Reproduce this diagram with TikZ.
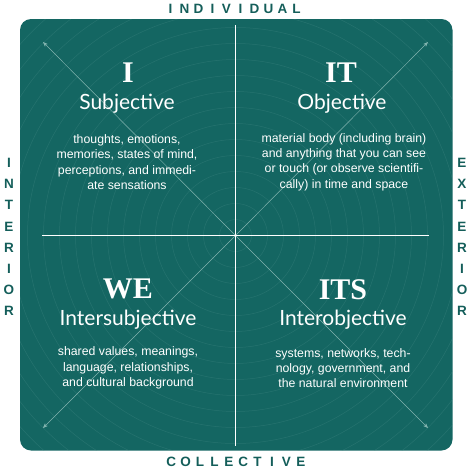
\documentclass[tikz,border=0pt]{standalone}
\usepackage{fontspec}
\setmainfont{Liberation Sans}
\newfontfamily\quadfont{Liberation Serif}
\newfontfamily\namefont{Lato}
\usetikzlibrary{arrows.meta,calc,positioning}
\definecolor{PanelTeal}{RGB}{20,102,98}
\definecolor{LabelTeal}{RGB}{20,94,90}
\definecolor{RingTeal}{RGB}{70,140,135}
\definecolor{ArrowTeal}{RGB}{130,180,175}

\begin{document}
\begin{tikzpicture}[x=1pt,y=-1pt,
  quad/.style={text=white,font=\quadfont\fontsize{30}{30}\selectfont\bfseries},
  qname/.style={text=white,font=\namefont\fontsize{21}{21}\selectfont},
  qtext/.style={text=white,align=center,font=\fontsize{12.3}{15.4}\selectfont},
  axislbl/.style={text=LabelTeal,font=\fontsize{13.5}{13.5}\selectfont\bfseries,inner sep=0pt},
  diag/.style={ArrowTeal,line width=.5pt,-{Stealth[length=5pt,width=4pt]}}]
\useasboundingbox (0,0) rectangle (472,472);
\fill[PanelTeal,rounded corners=11pt] (20,19) rectangle (452.5,450.5);
\coordinate (ctr) at (235.5,235.5);
% faint rings round the centre
\begin{scope}
  \clip[rounded corners=11pt] (20,19) rectangle (452.5,450.5);
  \foreach \r in {16,32,...,320}{\draw[RingTeal,line width=.5pt,opacity=.35] (ctr) circle (\r);}
\end{scope}
\coordinate (tl) at (43,42);\coordinate (tr) at (428,42);
\coordinate (bl) at (43,428);\coordinate (br) at (428,428);
\foreach \c in {tl,tr,bl,br}{\draw[diag] (ctr) -- (\c);}
\coordinate (vtop) at (235.5,25);\coordinate (vbot) at (235.5,446);
\coordinate (hlft) at (42,235.5);\coordinate (hrgt) at (429,235.5);
\draw[white,line width=.8pt] (vtop) -- (vbot);
\draw[white,line width=.8pt] (hlft) -- (hrgt);

\node[quad] (i) at (128,73){I};
\node[qname] (subj) at (127,104){Subjective};
\node[qtext] (subjtxt) at (127,162){thoughts, emotions,\\memories, states of mind,\\perceptions, and immedi-\\ate sensations};

\node[quad] (it) at (341,73){IT};
\node[qname] (obj) at (342,104){Objective};
\node[qtext] (objtxt) at (344,162){material body (including brain)\\and anything that you can see\\or touch (or observe scientifi-\\cally) in time and space};

\node[quad] (we) at (128,289){WE};
\node[qname] (isubj) at (128,320){Intersubjective};
\node[qtext] (isubjtxt) at (128,368){shared values, meanings,\\language, relationships,\\and cultural background};

\node[quad] (its) at (343,290){ITS};
\node[qname] (iobj) at (343,320){Interobjective};
\node[qtext] (iobjtxt) at (343,368){systems, networks, tech-\\nology, government, and\\the natural environment};

% axis words, one letter at a time
\foreach \ch [count=\k] in {I,N,D,I,V,I,D,U,A,L}{\node[axislbl] (top\k) at (233.5+14*\k-77,9){\ch};}
\foreach \ch [count=\k] in {C,O,L,L,E,C,T,I,V,E}{\node[axislbl] (bot\k) at (236+14.4*\k-79.2,462){\ch};}
\foreach \ch [count=\k] in {I,N,T,E,R,I,O,R}{\node[axislbl] (lft\k) at (9,142+21.1*\k){\ch};}
\foreach \ch [count=\k] in {E,X,T,E,R,I,O,R}{\node[axislbl] (rgt\k) at (462,142+21.1*\k){\ch};}
\end{tikzpicture}
\end{document}
